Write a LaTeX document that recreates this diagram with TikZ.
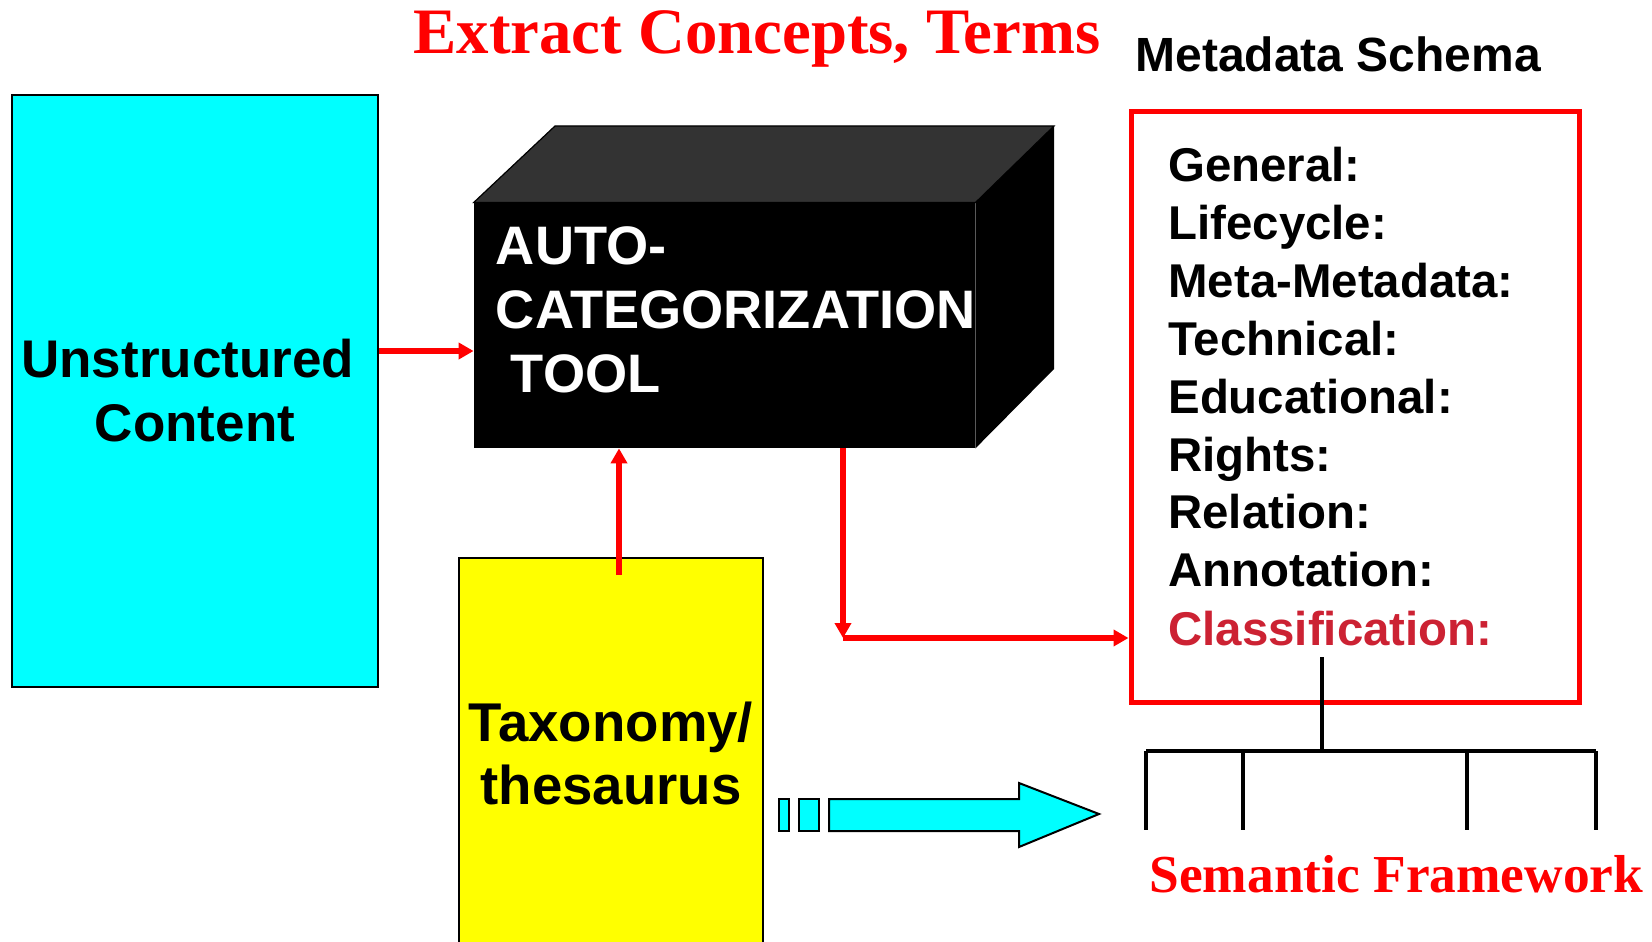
\documentclass[tikz,border=0pt]{standalone}
\usepackage{fontspec}
\usepackage{tikz}
\usetikzlibrary{arrows.meta}
\newfontfamily\arialfont{Liberation Sans}
\newfontfamily\timesfont{Liberation Serif}
\definecolor{classred}{RGB}{204,34,51}
\definecolor{cubetop}{RGB}{51,51,51}
\definecolor{aqua}{RGB}{0,255,255}
\definecolor{lemon}{RGB}{255,255,0}

\begin{document}
\begin{tikzpicture}[
  x=0.5pt, y=-0.5pt,
  box/.style={draw=black, line width=1.2pt, inner sep=0pt},
  flow/.style={draw=red, line width=2.8pt,
    -{Triangle[width=8pt,length=7.5pt]}},
  tree/.style={line width=2pt},
  title/.style={font={\timesfont\bfseries\fontsize{32.4}{38}\selectfont},
    text=red, inner sep=0pt},
  label/.style={font={\arialfont\bfseries\fontsize{26.5}{32}\selectfont},
    align=center},
  item/.style={font={\arialfont\bfseries\fontsize{23.7}{29}\selectfont},
    inner sep=0pt, anchor=base west},
  ]
  \useasboundingbox (0,0) rectangle (1652,941);
  % Titles
  \node[title, anchor=base west] (extract) at (413,54) {Extract Concepts, Terms};
  \node[item, font={\arialfont\bfseries\fontsize{24}{29}\selectfont}]
    (schematitle) at (1135,72) {Metadata Schema};
  % Unstructured content
  \node[box, fill=aqua, minimum width=183pt, minimum height=296pt, label]
    (content) at (195,391) {Unstructured\mbox{\ }\\Content};
  % Taxonomy
  \node[box, fill=lemon, minimum width=152pt, minimum height=195.5pt, label,
    font={\arialfont\bfseries\fontsize{27.3}{31.5}\selectfont}]
    (taxo) at (611,753.5) {Taxonomy/\\thesaurus};
  % Tool (black cube)
  \node[fill=black, minimum width=250.5pt, minimum height=122.5pt, inner sep=0pt]
    (tool) at (724.5,325.5) {};
  \filldraw[fill=cubetop, draw=black, line width=0.6pt]
    (tool.north west) -- (555,126) -- (1054,126) -- (tool.north east) -- cycle;
  \fill[black] (tool.north east) -- (1054,126) -- (1054,369) -- (tool.south east) -- cycle;
  \node[label, align=left, text=white, anchor=base west, inner sep=0pt,
    font={\arialfont\bfseries\fontsize{27.1}{32}\selectfont}]
    (tooltext) at (495.5,392) {AUTO-\\CATEGORIZATION\\\mbox{\ }TOOL};
  % Metadata schema
  \node[draw=red, line width=2.5pt, minimum width=224pt, minimum height=295pt]
    (schema) at (1355,407) {};
  \foreach \name [count=\i from 0] in {General:,Lifecycle:,Meta-Metadata:,
      Technical:,Educational:,Rights:,Relation:,Annotation:}
    \node[item] (item\i) at (1168,{182+57.8*\i}) {\name};
  \node[item, text=classred] (class) at (1168,645) {Classification:};
  % Red arrows
  \coordinate (in) at (379,351);
  \coordinate (up) at (619,575);
  \coordinate (corner) at (843,638);
  \draw[flow] (content.east |- in) -- (tool.west |- in);
  \draw[flow] (up) -- (up |- tool.south);
  \draw[flow] (tool.south -| corner) -- (corner);
  \draw[flow] (corner) -- (schema.west |- corner);
  % Semantic framework tree
  \coordinate (stem) at (1322,657);
  \draw[tree] (stem) -- (1322,751);
  \draw[tree] (1146,751) -- (1596,751);
  \foreach \x in {1146,1243,1467,1596}
    \draw[tree] (\x,751) -- (\x,830);
  \node[title, font={\timesfont\bfseries\fontsize{26.7}{32}\selectfont},
    anchor=base west] (framework) at (1149,892) {Semantic Framework};
  % Block arrow
  \filldraw[fill=aqua, draw=black, line width=1pt]
    (779,799) rectangle (789,831)
    (799,799) rectangle (819,831);
  \filldraw[fill=aqua, draw=black, line width=1pt]
    (829,799) -- (1019,799) -- (1019,783) -- (1099,814)
    -- (1019,847) -- (1019,831) -- (829,831) -- cycle;
\end{tikzpicture}
\end{document}
